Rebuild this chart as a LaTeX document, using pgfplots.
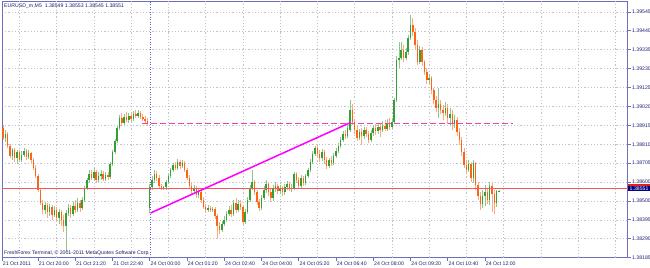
\documentclass[border=0pt]{standalone}
\usepackage{fontspec}
\setmainfont{Liberation Sans}
\usepackage{pgfplots}
\usepackage{pgfplotstable}
\pgfplotsset{compat=1.18}
\definecolor{mtnavy}{RGB}{30,30,110}
\definecolor{mtframe}{RGB}{110,110,190}
\definecolor{mtgrid}{RGB}{195,195,205}
\definecolor{bullbody}{RGB}{50,160,50}
\definecolor{bullwick}{RGB}{140,200,140}
\definecolor{bearbody}{RGB}{255,100,20}
\definecolor{bearwick}{RGB}{255,170,125}
\definecolor{sepblue}{RGB}{90,90,220}
\definecolor{trendmag}{RGB}{255,0,255}
\definecolor{redline}{RGB}{245,90,90}
\definecolor{boxnavy}{RGB}{0,0,128}
\definecolor{boxred}{RGB}{230,30,30}

\pgfplotstableread{
x o h l c
2 1.38845 1.38890 1.38823 1.38867
5 1.38745 1.38790 1.38723 1.38779
7 1.38734 1.38779 1.38701 1.38767
9 1.38723 1.38773 1.38712 1.38751
10 1.38751 1.38790 1.38740 1.38773
12 1.38740 1.38779 1.38729 1.38762
19 1.38445 1.38490 1.38423 1.38473
21 1.38434 1.38479 1.38412 1.38462
23 1.38418 1.38467 1.38406 1.38445
25 1.38401 1.38451 1.38367 1.38434
28 1.38356 1.38445 1.38212 1.38429
29 1.38429 1.38479 1.38412 1.38456
31 1.38423 1.38490 1.38412 1.38467
33 1.38445 1.38512 1.38434 1.38484
35 1.38456 1.38517 1.38445 1.38501
36 1.38501 1.38579 1.38490 1.38567
37 1.38567 1.38623 1.38556 1.38612
38 1.38612 1.38667 1.38601 1.38645
40 1.38623 1.38679 1.38612 1.38656
42 1.38612 1.38656 1.38601 1.38634
43 1.38634 1.38667 1.38612 1.38645
45 1.38617 1.38656 1.38606 1.38640
47 1.38629 1.38712 1.38617 1.38701
48 1.38701 1.38779 1.38690 1.38767
49 1.38767 1.38840 1.38756 1.38829
50 1.38829 1.38912 1.38817 1.38901
51 1.38901 1.38973 1.38890 1.38956
53 1.38929 1.38979 1.38918 1.38962
55 1.38945 1.38984 1.38929 1.38968
57 1.38951 1.38995 1.38940 1.38979
59 1.38968 1.39001 1.38956 1.38984
64 1.38456 1.38590 1.38429 1.38573
65 1.38573 1.38634 1.38556 1.38612
66 1.38612 1.38667 1.38595 1.38645
70 1.38567 1.38579 1.38556 1.38573
71 1.38573 1.38612 1.38556 1.38601
72 1.38601 1.38645 1.38590 1.38634
73 1.38634 1.38679 1.38623 1.38667
74 1.38667 1.38706 1.38656 1.38695
76 1.38679 1.38729 1.38667 1.38712
78 1.38690 1.38723 1.38679 1.38706
83 1.38551 1.38584 1.38534 1.38567
85 1.38529 1.38562 1.38512 1.38545
89 1.38445 1.38473 1.38434 1.38456
91 1.38445 1.38462 1.38434 1.38451
95 1.38334 1.38384 1.38323 1.38367
96 1.38367 1.38412 1.38356 1.38390
97 1.38390 1.38440 1.38379 1.38423
98 1.38423 1.38467 1.38412 1.38445
100 1.38423 1.38501 1.38412 1.38484
102 1.38445 1.38501 1.38434 1.38479
105 1.38379 1.38451 1.38367 1.38434
106 1.38434 1.38517 1.38423 1.38501
107 1.38501 1.38584 1.38490 1.38567
108 1.38567 1.38667 1.38556 1.38601
112 1.38456 1.38529 1.38445 1.38512
113 1.38512 1.38579 1.38501 1.38556
114 1.38556 1.38612 1.38540 1.38590
117 1.38512 1.38584 1.38495 1.38562
118 1.38562 1.38601 1.38545 1.38579
120 1.38551 1.38584 1.38534 1.38567
122 1.38545 1.38590 1.38529 1.38573
123 1.38573 1.38606 1.38556 1.38590
125 1.38562 1.38590 1.38545 1.38567
126 1.38567 1.38656 1.38556 1.38645
129 1.38579 1.38640 1.38567 1.38623
131 1.38595 1.38645 1.38584 1.38634
132 1.38634 1.38679 1.38623 1.38667
133 1.38667 1.38729 1.38656 1.38712
134 1.38712 1.38773 1.38701 1.38756
135 1.38756 1.38801 1.38745 1.38790
138 1.38734 1.38784 1.38717 1.38767
141 1.38690 1.38734 1.38679 1.38723
143 1.38706 1.38762 1.38695 1.38745
144 1.38745 1.38790 1.38734 1.38773
145 1.38773 1.38817 1.38762 1.38801
146 1.38801 1.38851 1.38790 1.38834
147 1.38834 1.38884 1.38823 1.38867
149 1.38856 1.38918 1.38845 1.38901
150 1.38890 1.39056 1.38879 1.39001
154 1.38845 1.38895 1.38834 1.38879
156 1.38856 1.38906 1.38840 1.38890
159 1.38834 1.38890 1.38823 1.38873
160 1.38873 1.38918 1.38856 1.38901
162 1.38884 1.38929 1.38867 1.38906
164 1.38890 1.38940 1.38879 1.38912
166 1.38895 1.38951 1.38884 1.38923
168 1.38906 1.38956 1.38895 1.38934
169 1.38934 1.39068 1.38923 1.39056
170 1.39056 1.39301 1.39045 1.39279
171 1.39279 1.39379 1.39234 1.39290
172 1.39290 1.39379 1.39279 1.39334
174 1.39290 1.39345 1.39279 1.39323
175 1.39323 1.39418 1.39306 1.39401
176 1.39401 1.39529 1.39390 1.39473
180 1.39267 1.39356 1.39256 1.39334
184 1.39168 1.39201 1.39145 1.39179
188 1.39012 1.39123 1.38956 1.39034
191 1.38984 1.39045 1.38968 1.39012
193 1.38956 1.39012 1.38912 1.38979
195 1.38923 1.38973 1.38901 1.38945
201 1.38667 1.38723 1.38656 1.38701
203 1.38623 1.38723 1.38595 1.38706
207 1.38479 1.38556 1.38456 1.38523
208 1.38523 1.38584 1.38467 1.38545
210 1.38501 1.38601 1.38473 1.38579
213 1.38484 1.38556 1.38462 1.38549
214 1.38549 1.38553 1.38545 1.38551
}\bull

\pgfplotstableread{
x o h l c
1 1.38901 1.38918 1.38834 1.38845
3 1.38867 1.38879 1.38790 1.38801
4 1.38801 1.38812 1.38734 1.38745
6 1.38779 1.38790 1.38712 1.38734
8 1.38767 1.38779 1.38712 1.38723
11 1.38773 1.38784 1.38723 1.38740
13 1.38762 1.38767 1.38706 1.38723
14 1.38723 1.38734 1.38667 1.38679
15 1.38679 1.38695 1.38623 1.38634
16 1.38634 1.38645 1.38545 1.38556
17 1.38556 1.38567 1.38473 1.38484
18 1.38484 1.38501 1.38423 1.38445
20 1.38473 1.38484 1.38401 1.38434
22 1.38462 1.38473 1.38390 1.38418
24 1.38445 1.38462 1.38379 1.38401
26 1.38434 1.38445 1.38356 1.38390
27 1.38390 1.38418 1.38323 1.38356
30 1.38456 1.38473 1.38401 1.38423
32 1.38467 1.38501 1.38429 1.38445
34 1.38484 1.38501 1.38434 1.38456
39 1.38645 1.38667 1.38612 1.38623
41 1.38656 1.38667 1.38595 1.38612
44 1.38645 1.38662 1.38606 1.38617
46 1.38640 1.38656 1.38612 1.38629
52 1.38956 1.38984 1.38912 1.38929
54 1.38962 1.38990 1.38934 1.38945
56 1.38968 1.38984 1.38934 1.38951
58 1.38979 1.39001 1.38956 1.38968
60 1.38984 1.38995 1.38951 1.38962
61 1.38962 1.38979 1.38940 1.38951
62 1.38951 1.38968 1.38923 1.38940
63 1.38940 1.38956 1.38912 1.38923
67 1.38645 1.38662 1.38606 1.38623
68 1.38623 1.38640 1.38562 1.38579
69 1.38579 1.38590 1.38556 1.38567
75 1.38695 1.38712 1.38667 1.38679
77 1.38712 1.38723 1.38673 1.38690
79 1.38706 1.38717 1.38656 1.38667
80 1.38667 1.38679 1.38612 1.38623
81 1.38623 1.38640 1.38567 1.38579
82 1.38579 1.38595 1.38534 1.38551
84 1.38567 1.38579 1.38512 1.38529
86 1.38545 1.38556 1.38484 1.38501
87 1.38501 1.38517 1.38451 1.38462
88 1.38462 1.38479 1.38434 1.38445
90 1.38456 1.38467 1.38434 1.38445
92 1.38451 1.38462 1.38395 1.38412
93 1.38412 1.38423 1.38290 1.38356
94 1.38356 1.38379 1.38312 1.38334
99 1.38445 1.38473 1.38406 1.38423
101 1.38484 1.38512 1.38429 1.38445
103 1.38479 1.38501 1.38445 1.38462
104 1.38462 1.38473 1.38362 1.38379
109 1.38601 1.38612 1.38529 1.38545
110 1.38545 1.38556 1.38473 1.38490
111 1.38490 1.38506 1.38440 1.38456
115 1.38590 1.38601 1.38523 1.38545
116 1.38545 1.38567 1.38490 1.38512
119 1.38579 1.38590 1.38534 1.38551
121 1.38567 1.38579 1.38523 1.38545
124 1.38590 1.38601 1.38551 1.38562
127 1.38645 1.38656 1.38595 1.38612
128 1.38612 1.38629 1.38567 1.38579
130 1.38623 1.38634 1.38579 1.38595
136 1.38790 1.38806 1.38740 1.38756
137 1.38756 1.38779 1.38712 1.38734
139 1.38767 1.38779 1.38701 1.38723
140 1.38723 1.38740 1.38673 1.38690
142 1.38723 1.38745 1.38690 1.38706
148 1.38867 1.38890 1.38840 1.38856
151 1.39001 1.39034 1.38918 1.38934
152 1.38934 1.38945 1.38867 1.38890
153 1.38890 1.38912 1.38829 1.38845
155 1.38879 1.38901 1.38806 1.38856
157 1.38890 1.38906 1.38851 1.38867
158 1.38867 1.38884 1.38817 1.38834
161 1.38901 1.38923 1.38862 1.38884
163 1.38906 1.38923 1.38851 1.38890
165 1.38912 1.38945 1.38884 1.38895
167 1.38923 1.38956 1.38890 1.38906
173 1.39334 1.39362 1.39267 1.39290
177 1.39473 1.39512 1.39412 1.39434
178 1.39434 1.39456 1.39334 1.39362
179 1.39362 1.39390 1.39251 1.39267
181 1.39334 1.39351 1.39245 1.39267
182 1.39267 1.39279 1.39195 1.39212
183 1.39212 1.39234 1.39145 1.39168
185 1.39179 1.39190 1.39090 1.39112
186 1.39112 1.39123 1.39034 1.39056
187 1.39056 1.39079 1.38990 1.39012
189 1.39034 1.39056 1.38979 1.39001
190 1.39001 1.39029 1.38945 1.38984
192 1.39012 1.39034 1.38923 1.38956
194 1.38979 1.39001 1.38890 1.38923
196 1.38945 1.38962 1.38856 1.38879
197 1.38879 1.38901 1.38806 1.38834
198 1.38834 1.38851 1.38745 1.38767
199 1.38767 1.38790 1.38679 1.38695
200 1.38695 1.38723 1.38645 1.38667
202 1.38701 1.38712 1.38601 1.38623
204 1.38706 1.38712 1.38556 1.38584
205 1.38584 1.38601 1.38501 1.38523
206 1.38523 1.38545 1.38445 1.38479
209 1.38545 1.38567 1.38479 1.38501
211 1.38579 1.38595 1.38434 1.38534
212 1.38534 1.38556 1.38423 1.38484
}\bear

\begin{document}
\begin{tikzpicture}
\useasboundingbox (-2bp,-10.4bp) rectangle (648bp,257.6bp);
\begin{axis}[
  at={(0,0)}, anchor=south west,
  scale only axis, width=625.9bp, height=256.1bp,
  xmin=0.54, xmax=269.4, ymin=1.3818, ymax=1.39603,
  axis line style={draw=mtframe, line width=1bp},
  tick style={draw=mtframe, line width=0.7bp},
  major tick length=3bp, tick align=outside,
  xtick pos=left, ytick pos=right,
  xticklabel pos=left, yticklabel pos=right,
  xtick={0.54,16,32,48,64,80,96,112,128,144,160,176,192,208},
  xticklabels={21 Oct 2011,21 Oct 20:00,21 Oct 21:20,21 Oct 22:40,24 Oct 00:00,24 Oct 01:20,24 Oct 02:40,24 Oct 04:00,24 Oct 05:20,24 Oct 06:40,24 Oct 08:00,24 Oct 09:20,24 Oct 10:40,24 Oct 12:00},
  extra x ticks={8,24,40,56,72,88,104,120,136,152,168,184,200,216,232,248,264},
  extra x tick labels={},
  extra x tick style={grid=major, major tick length=0pt},
  ytick={1.3818,1.38285,1.3839,1.38495,1.386,1.38705,1.3881,1.38915,1.3902,1.39125,1.3923,1.39335,1.3944,1.39545},
  yticklabels={1.38185,1.38290,1.38395,1.38500,1.38600,1.38705,1.38810,1.38915,1.39020,1.39125,1.39230,1.39335,1.39440,1.39545},
  ymajorgrids=true,
  grid style={draw=mtgrid, line width=0.6bp, dash pattern=on 1.2bp off 2bp},
  xticklabel style={font=\fontsize{5.2}{6}\selectfont, text=mtnavy, anchor=north west, inner sep=0pt, xshift=0.8bp, yshift=-1.5bp},
  yticklabel style={font=\fontsize{5.2}{6}\selectfont, text=mtnavy, anchor=west, inner sep=0pt, xshift=1bp},
  candle/.style={draw=none, mark=none, forget plot, error bars/y dir=plus, error bars/y explicit, error bars/error mark=none},
]
% wicks
\addplot[candle, error bars/error bar style={draw=bullwick, line width=0.6bp}] table[x=x, y=l, y error plus expr=\thisrow{h}-\thisrow{l}] {\bull};
\addplot[candle, error bars/error bar style={draw=bearwick, line width=0.6bp}] table[x=x, y=l, y error plus expr=\thisrow{h}-\thisrow{l}] {\bear};
% bodies
\addplot[candle, error bars/error bar style={draw=bullbody, line width=1.5bp}] table[x=x, y=o, y error plus expr=\thisrow{c}-\thisrow{o}] {\bull};
\addplot[candle, error bars/error bar style={draw=bearbody, line width=1.5bp}] table[x=x, y=c, y error plus expr=\thisrow{o}-\thisrow{c}] {\bear};
% objects
\addplot[color=sepblue, line width=0.8bp, dash pattern=on 1bp off 1.5bp] coordinates {(64.4,1.3818) (64.4,1.39603)};
\addplot[color=redline, line width=0.9bp] coordinates {(0.54,1.38564) (269.4,1.38564)};
\addplot[color=magenta!75, line width=1.2bp, dash pattern=on 6bp off 3bp] coordinates {(60.6,1.38927) (220,1.38927)};
\addplot[color=trendmag, line width=1.5bp] coordinates {(64.4,1.38428) (150,1.38929)};
\node[anchor=west, inner sep=0pt, text=mtnavy, font=\fontsize{5.2}{6}\selectfont, xshift=2bp, yshift=-4.5bp] at (rel axis cs:0,1) {EURUSD\_m,M5\ \ 1.38549 1.38553 1.38545 1.38551};
\node[anchor=west, inner sep=0pt, text=mtnavy, font=\fontsize{5.2}{6}\selectfont, xshift=2bp, yshift=4.6bp] at (rel axis cs:0,0) {FreshForex Terminal, © 2001-2011 MetaQuotes Software Corp.};
\coordinate (bid) at (axis cs:269.4,1.38564);
\end{axis}
\node[anchor=west, fill=boxred, inner sep=0pt, minimum height=5bp, minimum width=22bp] at ([yshift=2bp]bid) {};
\node[anchor=west, fill=boxnavy, text=white, inner sep=0pt, minimum height=5bp, minimum width=22bp, font=\fontsize{5.2}{6}\selectfont] at (bid) {1.38551};
\end{tikzpicture}
\end{document}
